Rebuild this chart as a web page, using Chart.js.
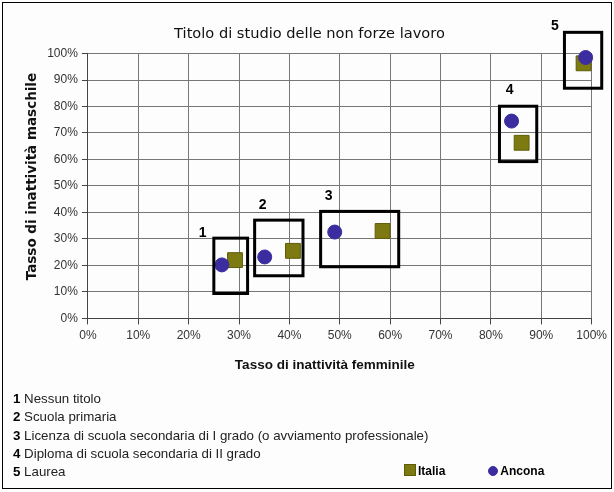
<!DOCTYPE html>
<html>
<head>
<meta charset="utf-8">
<script src="https://cdn.jsdelivr.net/npm/chart.js@4/dist/chart.umd.min.js"></script>
<style>
  body { margin: 0; background: #fff; font-family: "Liberation Sans", Arial, sans-serif; }
  #frame { position: absolute; left: 2px; top: 2px; width: 608px; height: 485px; border: 1px solid #000; background: #fdfdfd; }
  #wrap { position: absolute; left: 0; top: 0; width: 608px; height: 485px; }
  #notes { position: absolute; left: 10px; top: 387px; font-size: 13.3px; line-height: 18.3px; color: #222; }
  #notes b { color: #000; }
  #legend { position: absolute; left: 401px; top: 461px; font: bold 12px "Liberation Sans", Arial, sans-serif; color: #000; }
  #legend span.item { display: inline-block; margin-right: 43px; }
  #legend i { display: inline-block; vertical-align: -1px; margin-right: 2px; }
</style>
</head>
<body>
<div id="frame">
  <div id="wrap"><canvas id="chart"></canvas></div>
  <div id="notes"></div>
  <div id="legend"></div>
</div>
<script>
// Levels of education (numbered boxes)
const levels = ['1', '2', '3', '4', '5'];
const levelNames = [
    'Nessun titolo',
    'Scuola primaria',
    'Licenza di scuola secondaria di I grado (o avviamento professionale)',
    'Diploma di scuola secondaria di II grado',
    'Laurea'
];

// Female inactivity rate (x) and male inactivity rate (y), in %
const femItalia = [29.2, 40.7, 58.5, 86.1, 98.4];
const maleItalia = [22.0, 25.5, 33.0, 66.3, 96.3];
const femAncona = [26.6, 35.1, 49.0, 84.1, 98.8];
const maleAncona = [20.2, 23.2, 32.6, 74.5, 98.5];

// Box extents around each pair, in axis units
const boxLeft = [25.0, 33.1, 46.2, 81.7, 94.6];
const boxRight = [31.7, 42.7, 61.7, 89.1, 102.0];
const boxBottom = [9.4, 16.1, 19.5, 59.2, 86.9];
const boxTop = [30.3, 37.1, 40.4, 80.1, 108.0];
const labelX = [22.8, 34.7, 47.8, 83.7, 92.7];
const labelY = [32.2, 42.7, 46.1, 86.1, 110.5];

document.getElementById('notes').innerHTML =
    levels.map((l, i) => `<div><b>${l}</b> ${levelNames[i]}</div>`).join('');

const FONT = '"Liberation Sans", Arial, sans-serif';
const WIDE = '"DejaVu Sans", Verdana, sans-serif';
const NB = '\u00a0';

// draws the numbered rectangles around each pair of points
const boxPlugin = {
    id: 'boxes',
    afterDatasetsDraw(chart) {
        const ctx = chart.ctx;
        const xs = chart.scales.x, ys = chart.scales.y;
        ctx.save();
        ctx.strokeStyle = '#000';
        ctx.lineWidth = 3;
        levels.forEach((l, i) => {
            const x1 = xs.getPixelForValue(boxLeft[i]);
            const x2 = xs.getPixelForValue(boxRight[i]);
            const y1 = ys.getPixelForValue(boxTop[i]);
            const y2 = ys.getPixelForValue(boxBottom[i]);
            ctx.strokeRect(x1, y1, x2 - x1, y2 - y1);
            ctx.fillStyle = '#000';
            ctx.font = 'bold 14px ' + FONT;
            ctx.textAlign = 'center';
            ctx.textBaseline = 'middle';
            ctx.fillText(l, xs.getPixelForValue(labelX[i]), ys.getPixelForValue(labelY[i]));
        });
        ctx.restore();
    }
};

const toPoints = (xs, ys) => xs.map((x, i) => ({ x: x, y: ys[i] }));

const chart = new Chart(document.getElementById('chart'), {
    type: 'scatter',
    data: {
        datasets: [{
            label: 'Italia',
            data: toPoints(femItalia, maleItalia),
            pointStyle: 'rect',
            pointRadius: 10.5,
            pointHoverRadius: 10.5,
            backgroundColor: '#7d7a12',
            borderColor: '#5e5c08',
            borderWidth: 1,
            order: 2
        }, {
            label: 'Ancona',
            data: toPoints(femAncona, maleAncona),
            pointStyle: 'circle',
            pointRadius: 7,
            pointHoverRadius: 7,
            backgroundColor: '#3b2ca0',
            borderColor: '#3b2ca0',
            borderWidth: 1,
            order: 1
        }]
    },
    options: {
        responsive: true,
        maintainAspectRatio: false,
        animation: false,
        clip: false,
        layout: { padding: { left: 21, right: 16, top: 0, bottom: 0 } },
        plugins: {
            title: {
                display: true,
                text: 'Titolo di studio delle non forze lavoro',
                color: '#111',
                font: { family: WIDE, size: 14.6, weight: 'normal' },
                padding: { top: 22, bottom: 11 }
            },
            legend: { display: false },
            tooltip: { enabled: false }
        },
        scales: {
            x: {
                type: 'linear',
                min: 0,
                max: 100,
                ticks: { stepSize: 10, color: '#333', font: { family: FONT, size: 12 }, callback: v => v + '%', padding: 4 },
                grid: { color: '#777', lineWidth: 1, tickLength: 6, tickColor: '#444' },
                border: { color: '#444' },
                title: {
                    display: true,
                    // trailing spaces push the centred title a little to the left, as in the original
                    text: 'Tasso di inattività femminile' + NB.repeat(8),
                    color: '#111',
                    font: { family: FONT, size: 13.5, weight: 'bold' },
                    padding: { top: 10, bottom: 115 }
                }
            },
            y: {
                type: 'linear',
                min: 0,
                max: 100,
                ticks: { stepSize: 10, color: '#333', font: { family: FONT, size: 12 }, callback: v => v + '%', padding: 4 },
                grid: { color: '#777', lineWidth: 1, tickLength: 6, tickColor: '#444' },
                border: { color: '#444' },
                title: {
                    display: true,
                    text: NB.repeat(4) + 'Tasso di inattività maschile',
                    color: '#111',
                    font: { family: WIDE, size: 13.5, weight: 'bold' },
                    padding: { top: 0, bottom: 3 }
                }
            }
        }
    },
    plugins: [boxPlugin]
});

// legend built from the dataset styles, placed at the bottom right
document.getElementById('legend').innerHTML = chart.data.datasets.map(ds => {
    const round = ds.pointStyle === 'circle';
    const size = round ? 10 : 12;
    return `<span class="item"><i style="width:${size}px;height:${size}px;background:${ds.backgroundColor};` +
        `border:1px solid ${ds.borderColor};box-sizing:border-box;border-radius:${round ? '50%' : '0'}"></i>${ds.label}</span>`;
}).join('');
</script>
</body>
</html>
